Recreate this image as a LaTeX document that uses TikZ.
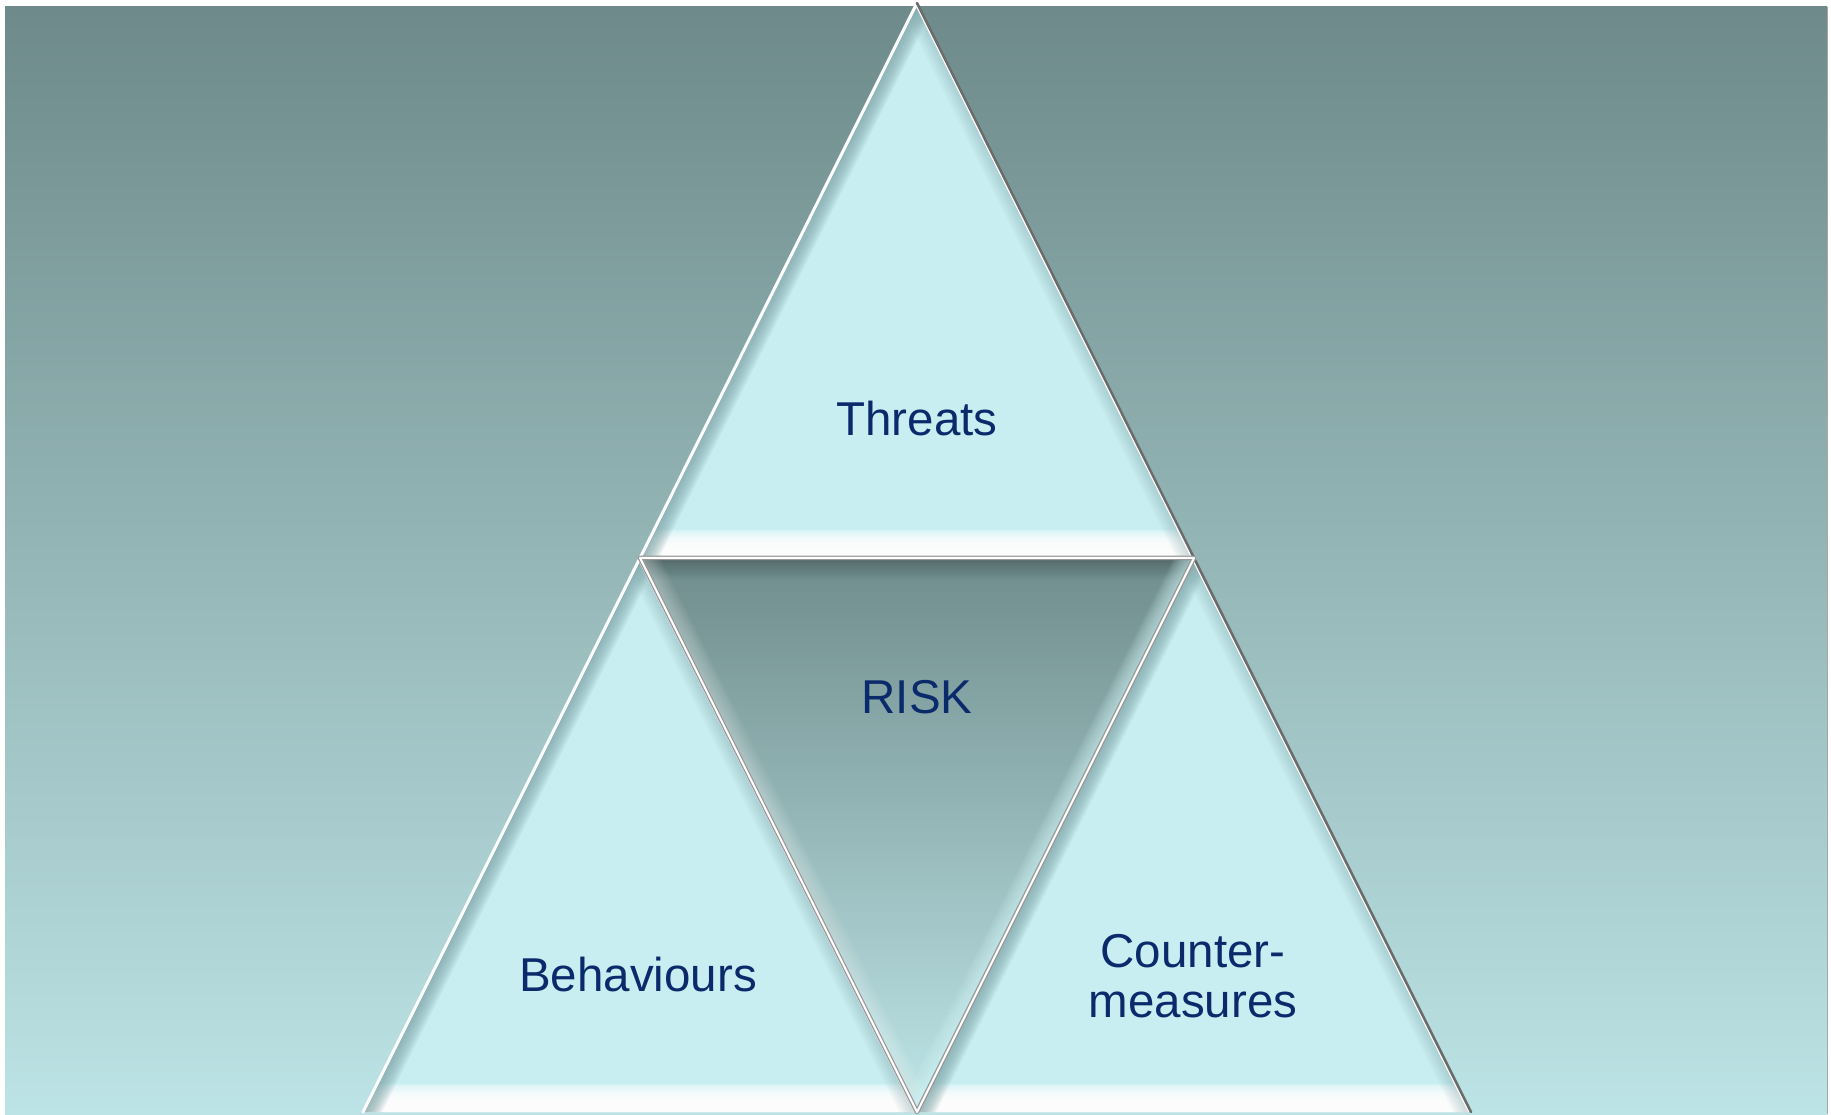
\documentclass[tikz,border=0pt]{standalone}
\usepackage{fontspec}
\setmainfont{Liberation Sans}
\definecolor{bgtop}{HTML}{6E8A8A}
\definecolor{bgbot}{HTML}{BCE3E5}
\definecolor{trifill}{HTML}{C8EEF1}
\definecolor{lbev}{HTML}{7FA5A8}
\definecolor{risktop}{HTML}{718D8D}
\definecolor{riskbot}{HTML}{BDE5E7}
\definecolor{cyanhi}{HTML}{D8FBFD}
\definecolor{edgegray}{HTML}{6B6B6B}
\definecolor{navy}{HTML}{0B2A6B}
\newcommand{\bevstrip}[5]{%
  \foreach \k in {1,...,12}{%
    \draw[#3, draw opacity=#4, line width={2*#5*\k/12}] #1 -- #2;
  }}
\newcommand{\uptri}[3]{%
  \begin{scope}
    \clip #1 -- #2 -- #3 -- cycle;
    \fill[trifill] #1 -- #2 -- #3 -- cycle;
    \bevstrip{#2}{#3}{white}{0.3}{28}
    \bevstrip{#2}{#1}{lbev}{0.11}{17}
    \bevstrip{#1}{#3}{lbev}{0.04}{16}
    \draw[white, line width=5] #1 -- #3;
  \end{scope}
  \draw[white, line width=3, line cap=round] #2 -- #1;
  \draw[edgegray, line width=2.5, line cap=round] #1 -- #3;
}
\begin{document}
\begin{tikzpicture}[x=1pt,y=1pt,
  lbl/.style={font=\fontsize{47.5}{50}\selectfont, text=navy, inner sep=0pt}]
\useasboundingbox (0,0) rectangle (1831,1114);
\shade[top color=bgtop, bottom color=bgbot] (5,0) rectangle (1827,1107);
\draw[gray!70, line width=1] (1827,0) -- (1827,1107);
\coordinate (T) at (917,1111);
\coordinate (L) at (640,556);
\coordinate (R) at (1194,556);
\coordinate (BL) at (363,2);
\coordinate (BM) at (917,2);
\coordinate (BR) at (1471,2);
% upright triangles
\uptri{(T)}{(L)}{(R)}
\uptri{(L)}{(BL)}{(BM)}
\uptri{(R)}{(BM)}{(BR)}
% inverted RISK triangle
\begin{scope}
  \clip (L) -- (R) -- (BM) -- cycle;
  \shade[top color=risktop, bottom color=riskbot] (L) -- (R) -- (BM) -- cycle;
  \bevstrip{(L)}{(R)}{black}{0.02}{22}
  \bevstrip{(L)}{(BM)}{white}{0.035}{18}
  \bevstrip{(R)}{(BM)}{cyanhi}{0.07}{18}
\end{scope}
\draw[gray!80, line width=4.5, line join=round] (L) -- (R) -- (BM) -- cycle;
\draw[white, line width=2, line join=round] (L) -- (R) -- (BM) -- cycle;
% labels
\node[lbl, anchor=base] (threats) at (917,678) {Threats};
\node[lbl, anchor=base] (risk) at (917,400) {RISK};
\node[lbl, anchor=base] (behav) at (638,122) {Behaviours};
\node[lbl, align=center, anchor=center] (counter) at (1193,138) {Counter-\\measures};
\end{tikzpicture}
\end{document}
